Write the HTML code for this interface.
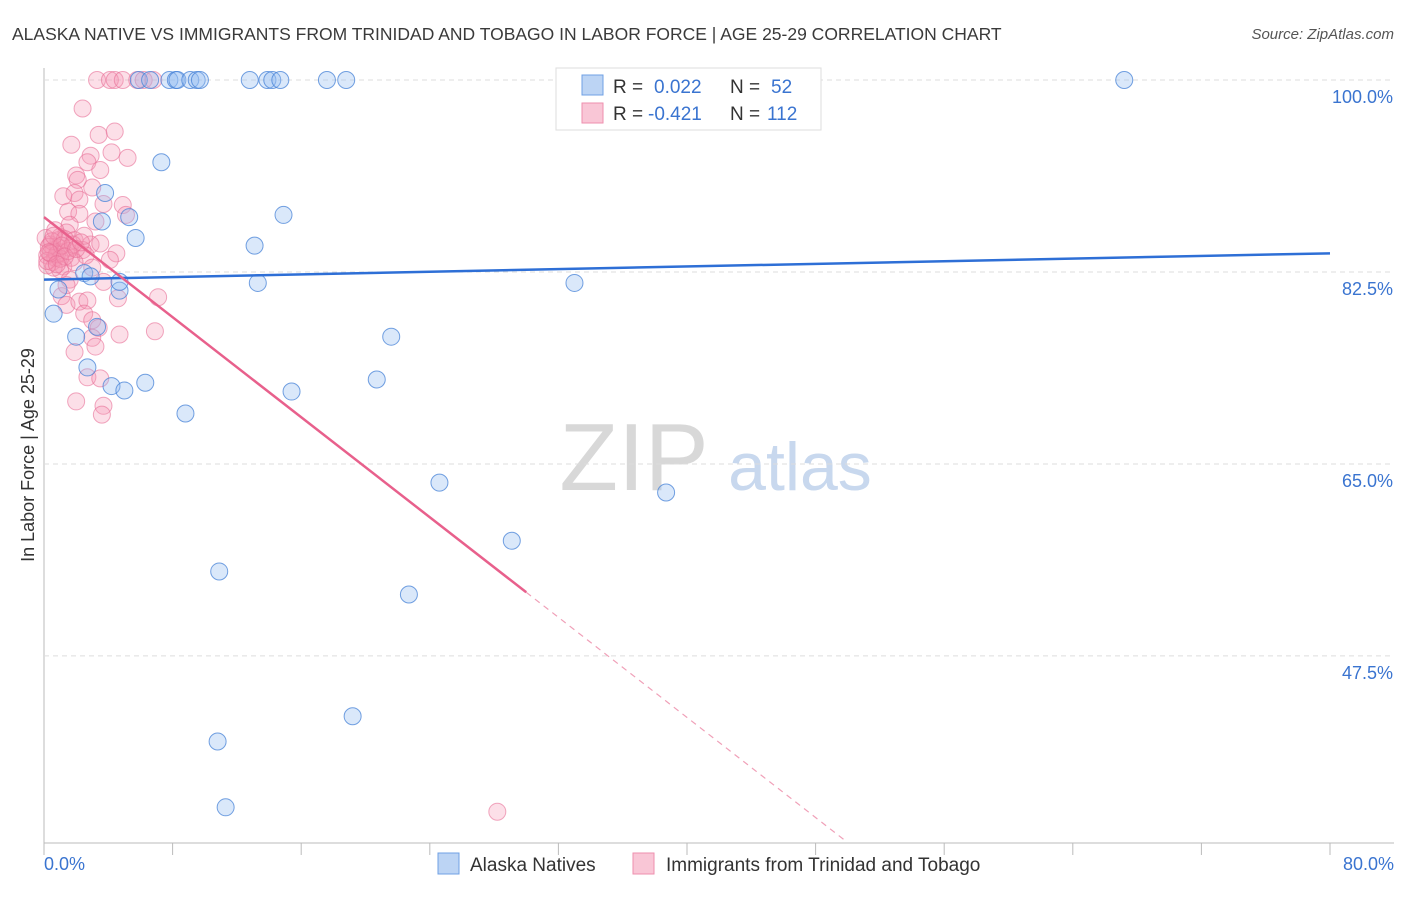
<!DOCTYPE html>
<html><head><meta charset="utf-8"><style>
body{margin:0;background:#fff;font-family:"Liberation Sans",sans-serif}
svg text{font-family:"Liberation Sans",sans-serif}
</style></head><body>
<svg id="c" width="1406" height="892">
<text x="12" y="40" font-size="17.5" fill="#3a3a3a">ALASKA NATIVE VS IMMIGRANTS FROM TRINIDAD AND TOBAGO IN LABOR FORCE | AGE 25-29 CORRELATION CHART</text>
<text x="1394" y="39" font-size="15" fill="#555" font-style="italic" text-anchor="end">Source: ZipAtlas.com</text>
<text x="634" y="490" font-size="96" fill="#d8d8d8" text-anchor="middle" font-family="Liberation Serif">ZIP</text>
<text x="800" y="490" font-size="68" fill="#c8d8ee" text-anchor="middle">atlas</text>
<text transform="translate(34,455) rotate(-90)" font-size="18" fill="#333" text-anchor="middle">In Labor Force | Age 25-29</text>
<g id="grid"></g><g id="pts"></g><g id="lines"></g>
<g>
<rect x="556" y="68" width="265" height="62" fill="#fff" stroke="#ddd"/>
<rect x="582" y="75" width="21" height="20" fill="#bcd4f4" stroke="#6fa0e4"/>
<rect x="582" y="103" width="21" height="20" fill="#f9c6d6" stroke="#ee8fae"/>
<text x="613" y="93" font-size="19" fill="#333">R =</text>
<text x="654" y="93" font-size="19" fill="#3a74d0">0.022</text>
<text x="730" y="93" font-size="19" fill="#333">N =</text>
<text x="771" y="93" font-size="19" fill="#3a74d0">52</text>
<text x="613" y="120" font-size="19" fill="#333">R =</text>
<text x="648" y="120" font-size="19" fill="#3a74d0">-0.421</text>
<text x="730" y="120" font-size="19" fill="#333">N =</text>
<text x="767" y="120" font-size="19" fill="#3a74d0">112</text>
</g>
<g>
<rect x="438" y="853" width="21" height="21" fill="#bcd4f4" stroke="#6fa0e4"/>
<text x="470" y="871" font-size="19" fill="#333">Alaska Natives</text>
<rect x="633" y="853" width="21" height="21" fill="#f9c6d6" stroke="#ee8fae"/>
<text x="666" y="871" font-size="19" fill="#333">Immigrants from Trinidad and Tobago</text>
</g>
</svg>
<script>
const yTicks=[100,82.5,65,47.5];
const yTickLabels=["100.0%","82.5%","65.0%","47.5%"];
const xLabels=["0.0%","80.0%"];
const blueX=[5.9,6.6,7.8,8.2,8.3,9.1,9.5,9.7,12.8,13.9,14.2,14.7,17.6,18.8,37.8,45.0,67.2,7.3,3.8,3.6,5.3,5.7,14.9,13.1,13.3,33.0,2.5,4.7,0.9,0.6,3.3,2.0,21.6,2.7,4.2,5.0,6.3,8.8,15.4,20.7,24.6,38.7,29.1,10.9,22.7,19.2,10.8,11.3,4.7,2.9];
const blueY=[100,100,100,100,100,100,100,100,100,100,100,100,100,100,100,100,100,92.5,89.7,87.1,87.5,85.6,87.7,84.9,81.5,81.5,82.4,80.8,80.9,78.7,77.5,76.6,76.6,73.8,72.1,71.7,72.4,69.6,71.6,72.7,63.3,62.4,58.0,55.2,53.1,42.0,39.7,33.7,81.6,82.1];
const pinkX=[3.3,4.1,4.4,4.9,5.8,6.2,6.8,2.4,1.7,3.4,4.4,2.9,4.2,5.2,2.7,3.5,2.0,2.1,1.2,3.0,1.9,3.7,2.2,1.5,2.2,4.9,5.1,1.6,1.0,2.9,3.5,4.5,0.6,1.1,1.6,0.2,0.5,0.9,1.4,1.9,2.4,0.4,0.7,1.2,1.7,2.6,0.1,1.0,3.0,3.7,1.6,1.1,1.4,2.2,2.7,4.6,7.1,2.5,3.0,3.4,3.0,3.2,1.9,4.7,6.9,2.7,3.5,2.0,3.7,3.6,28.2,0.7,0.6,3.2,1.4,1.9,0.9,0.2,2.5,4.1,0.3,0.5,0.8,1.0,1.3,1.5,1.8,0.2,0.4,0.6,1.1,1.3,2.0,2.3,0.3,0.8];
const pinkY=[100,100,100,100,100,100,100,97.4,94.1,95.0,95.3,93.1,93.4,92.9,92.5,91.8,91.3,90.9,89.4,90.2,89.7,88.7,89.1,88.0,87.8,88.6,87.7,86.8,85.7,85.0,85.1,84.2,84.5,84.3,84.7,84.0,83.4,85.4,86.1,85.4,84.5,85.0,83.8,83.0,83.8,84.0,85.6,82.7,82.9,81.6,81.8,80.3,79.5,79.8,79.9,80.1,80.2,78.7,78.1,77.4,76.5,75.7,75.2,76.8,77.1,72.9,72.8,70.7,70.3,69.5,33.3,86.3,82.9,87.1,81.3,83.4,84.7,83.1,85.8,83.6,84.8,85.3,84.1,83.7,85.5,84.4,85.0,83.5,84.2,85.8,84.9,83.9,84.6,85.2,84.3,83.2];
const blueTrend=[[0,81.8],[80,84.2]];
const pinkSolid=[[0,87.5],[30,53.3]];
const pinkDash=[[30,53.3],[49.9,30.6]];
const sx=v=>44+v/80*1286;
const sy=v=>80+(100-v)*10.97;
const NS="http://www.w3.org/2000/svg";
function mk(t,a,p){const e=document.createElementNS(NS,t);for(const k in a)e.setAttribute(k,a[k]);p.appendChild(e);return e;}
const grid=document.getElementById('grid');
let ax=mk('line',{x1:44,y1:68,x2:44,y2:843,stroke:'#bbb'},grid);


let bx=mk('line',{x1:44,y1:843,x2:1394,y2:843,stroke:'#bbb'},grid);


yTicks.forEach((v,i)=>{
 const g=mk('line',{x1:44,x2:1394,y1:sy(v),y2:sy(v),stroke:'#ddd','stroke-dasharray':'5,4'},grid);
 
 
 const t=mk('text',{x:1393,y:sy(v)+23,'font-size':18,fill:'#3a74d0','text-anchor':'end'},grid);
 t.textContent=yTickLabels[i];
 
 
});
for(let i=0;i<=10;i++){
 const x=sx(i*8);
 const t=mk('line',{x1:x,x2:x,y1:843,y2:855,stroke:'#bbb'},grid);
 
 
}
[[0,'start',44],[80,'end',1394]].forEach((d,i)=>{
 const t=mk('text',{x:d[2],y:870,'font-size':18,fill:'#3a74d0','text-anchor':d[1]},grid);
 t.textContent=xLabels[i];
 
 
});
const pts=document.getElementById('pts');
pinkX.forEach((x,i)=>{
 const c=mk('circle',{cx:sx(x),cy:sy(pinkY[i]),r:8.5,fill:'rgba(244,150,180,0.3)',stroke:'rgba(232,110,150,0.6)','stroke-width':1},pts);
 
 
});
blueX.forEach((x,i)=>{
 const c=mk('circle',{cx:sx(x),cy:sy(blueY[i]),r:8.5,fill:'rgba(150,190,240,0.35)',stroke:'rgba(70,130,215,0.75)','stroke-width':1},pts);
 
 
});
const L=document.getElementById('lines');
let l1=mk('line',{x1:sx(blueTrend[0][0]),y1:sy(blueTrend[0][1]),x2:sx(blueTrend[1][0]),y2:sy(blueTrend[1][1]),stroke:'#2e6fd6','stroke-width':2.5},L);


let l2=mk('line',{x1:sx(pinkSolid[0][0]),y1:sy(pinkSolid[0][1]),x2:sx(pinkSolid[1][0]),y2:sy(pinkSolid[1][1]),stroke:'#e8608c','stroke-width':2.5},L);


let l3=mk('line',{x1:sx(pinkDash[0][0]),y1:sy(pinkDash[0][1]),x2:sx(pinkDash[1][0]),y2:sy(pinkDash[1][1]),stroke:'#f0a0b8','stroke-width':1.2,'stroke-dasharray':'6,5'},L);


</script>
</body></html>
